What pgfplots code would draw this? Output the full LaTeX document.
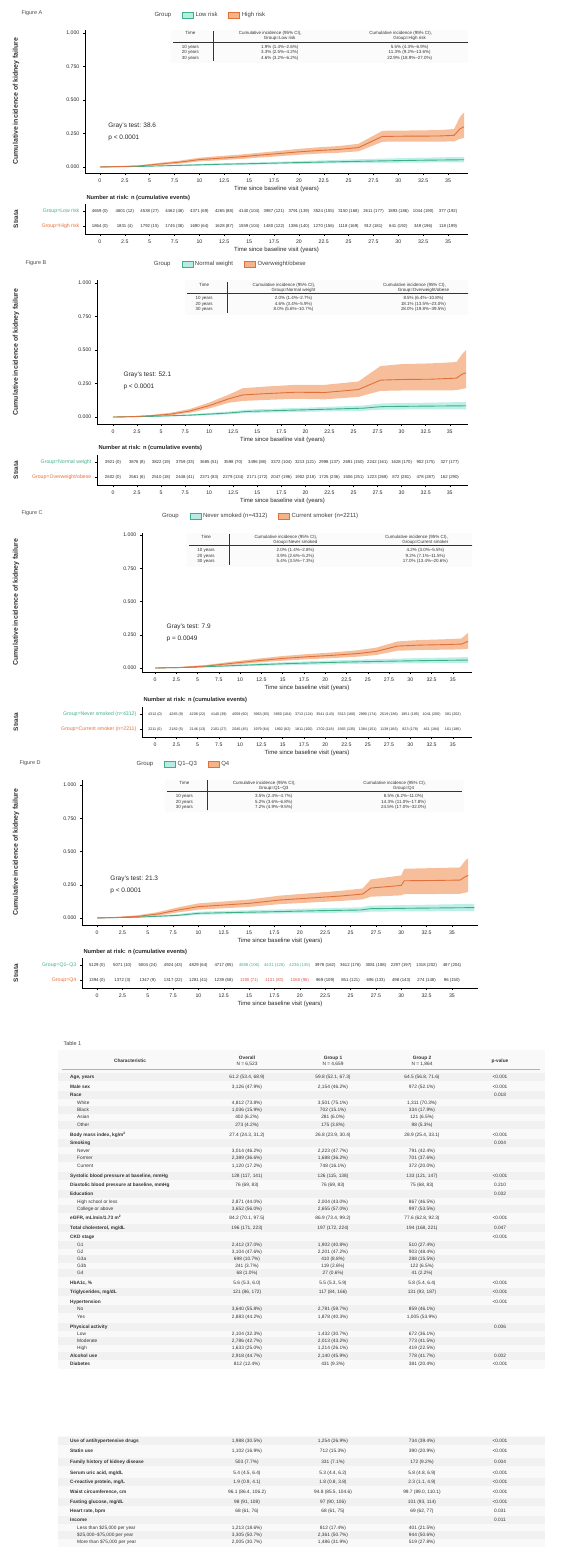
\documentclass[border=0pt]{standalone}
\usepackage{fontspec}
\setmainfont{Liberation Sans}
\usepackage{array}
\usepackage{pgfplots}
\usepackage{pgfplotstable}
\pgfplotsset{compat=1.18}

\definecolor{oline}{HTML}{E2703A}
\definecolor{oband}{HTML}{F5B388}
\definecolor{gline}{HTML}{3FAF8A}
\definecolor{gband}{HTML}{B6ECE4}
\definecolor{rtxt}{HTML}{D9534F}

% ---------------- estimates (x, y) ----------------
\pgfplotstableread[row sep=\\]{x y\\
0 0\\ 2 0.003\\ 4 0.008\\ 6 0.022\\ 8 0.036\\ 10 0.055\\ 12 0.065\\ 14 0.075\\ 16 0.088\\ 18 0.100\\ 20 0.113\\
22 0.123\\ 24 0.131\\ 26 0.145\\ 28.4 0.228\\ 31 0.230\\ 34 0.231\\ 35.6 0.236\\ 36.2 0.285\\ 36.6 0.300\\}\Aor
\pgfplotstableread[row sep=\\]{x y\\
0 0\\ 4 0.004\\ 8 0.012\\ 12 0.020\\ 16 0.026\\ 20 0.033\\ 24 0.039\\ 28 0.045\\ 32 0.050\\ 36.6 0.054\\}\Agr
\pgfplotstableread[row sep=\\]{x y\\
0 0\\ 2 0.003\\ 4 0.010\\ 6 0.022\\ 8 0.045\\ 10 0.085\\ 12 0.135\\ 13.5 0.165\\ 16 0.175\\ 19 0.185\\ 22 0.183\\
25.5 0.205\\ 27.8 0.275\\ 30 0.280\\ 33 0.282\\ 35.7 0.290\\ 36.3 0.320\\ 36.7 0.330\\}\Bor
\pgfplotstableread[row sep=\\]{x y\\
0 0\\ 4 0.005\\ 8 0.014\\ 12 0.030\\ 14 0.042\\ 18 0.050\\ 22 0.058\\ 26 0.066\\ 28 0.078\\ 32 0.081\\ 36.7 0.084\\}\Bgr
\pgfplotstableread[row sep=\\]{x y\\
0 0\\ 3 0.004\\ 6 0.015\\ 9 0.035\\ 12 0.055\\ 15 0.072\\ 18 0.085\\ 21 0.096\\ 24 0.110\\ 26 0.125\\ 28.5 0.165\\
31 0.172\\ 34 0.176\\ 36 0.180\\ 36.8 0.200\\}\Cor
\pgfplotstableread[row sep=\\]{x y\\
0 0\\ 4 0.005\\ 8 0.015\\ 12 0.025\\ 16 0.034\\ 20 0.041\\ 24 0.047\\ 28 0.052\\ 32 0.056\\ 36.8 0.060\\}\Cgr
\pgfplotstableread[row sep=\\]{x y\\
0 0\\ 2 0.004\\ 4 0.012\\ 6 0.030\\ 8 0.060\\ 10 0.085\\ 12 0.095\\ 15 0.110\\ 18 0.135\\ 21 0.150\\ 24 0.165\\
26.2 0.180\\ 27 0.225\\ 30 0.245\\ 30.3 0.280\\ 33 0.282\\ 35.8 0.285\\ 36.3 0.310\\ 36.6 0.320\\}\Dor
\pgfplotstableread[row sep=\\]{x y\\
0 0\\ 4 0.006\\ 8 0.020\\ 10 0.035\\ 14 0.042\\ 18 0.048\\ 22 0.055\\ 26 0.060\\ 27 0.070\\ 32 0.074\\ 37.2 0.078\\}\Dgr

% ---------------- 95% CI bands: upper limit forward, lower limit backward ----------------
\pgfplotstableread[row sep=\\]{x y\\
0 0\\ 2 0.006\\ 4 0.013\\ 6 0.031\\ 8 0.047\\ 10 0.069\\ 12 0.081\\ 14 0.092\\ 16 0.106\\ 18 0.120\\ 20 0.135\\
22 0.147\\ 24 0.156\\ 26 0.173\\ 28.4 0.270\\ 31 0.272\\ 34 0.275\\ 35.6 0.283\\ 36.2 0.375\\ 36.6 0.405\\
36.6 0.218\\ 36.2 0.210\\ 35.6 0.191\\ 34 0.189\\ 31 0.190\\ 28.4 0.188\\ 26 0.117\\ 24 0.106\\ 22 0.100\\
20 0.091\\ 18 0.080\\ 16 0.070\\ 14 0.059\\ 12 0.050\\ 10 0.042\\ 8 0.025\\ 6 0.014\\ 4 0.004\\ 2 0.001\\ 0 0\\}\Aob
\pgfplotstableread[row sep=\\]{x y\\
0 0\\ 4 0.007\\ 8 0.018\\ 12 0.027\\ 16 0.035\\ 20 0.044\\ 24 0.053\\ 28 0.062\\ 32 0.069\\ 36.6 0.075\\
36.6 0.035\\ 32 0.033\\ 28 0.030\\ 24 0.027\\ 20 0.023\\ 16 0.018\\ 12 0.013\\ 8 0.007\\ 4 0.002\\ 0 0\\}\Agb
\pgfplotstableread[row sep=\\]{x y\\
0 0\\ 2 0.006\\ 4 0.016\\ 6 0.032\\ 8 0.060\\ 10 0.108\\ 12 0.166\\ 13.5 0.215\\ 16 0.228\\ 19 0.240\\ 22 0.240\\
25.5 0.265\\ 27.8 0.380\\ 30 0.395\\ 33 0.400\\ 35.7 0.410\\ 36.3 0.470\\ 36.7 0.500\\
36.7 0.215\\ 36.3 0.210\\ 35.7 0.200\\ 33 0.198\\ 30 0.198\\ 27.8 0.195\\ 25.5 0.150\\ 22 0.132\\ 19 0.136\\
16 0.128\\ 13.5 0.120\\ 12 0.106\\ 10 0.064\\ 8 0.032\\ 6 0.013\\ 4 0.005\\ 2 0.001\\ 0 0\\}\Bob
\pgfplotstableread[row sep=\\]{x y\\
0 0\\ 4 0.009\\ 8 0.021\\ 12 0.041\\ 14 0.055\\ 18 0.065\\ 22 0.075\\ 26 0.086\\ 28 0.102\\ 32 0.106\\ 36.7 0.112\\
36.7 0.058\\ 32 0.057\\ 28 0.055\\ 26 0.047\\ 22 0.042\\ 18 0.036\\ 14 0.030\\ 12 0.020\\ 8 0.008\\ 4 0.002\\ 0 0\\}\Bgb
\pgfplotstableread[row sep=\\]{x y\\
0 0\\ 3 0.008\\ 6 0.023\\ 9 0.047\\ 12 0.070\\ 15 0.090\\ 18 0.105\\ 21 0.118\\ 24 0.135\\ 26 0.153\\ 28.5 0.200\\
31 0.210\\ 34 0.216\\ 36 0.222\\ 36.8 0.265\\
36.8 0.145\\ 36 0.140\\ 34 0.138\\ 31 0.135\\ 28.5 0.130\\ 26 0.098\\ 24 0.086\\ 21 0.075\\ 18 0.066\\
15 0.055\\ 12 0.041\\ 9 0.024\\ 6 0.008\\ 3 0.001\\ 0 0\\}\Cob
\pgfplotstableread[row sep=\\]{x y\\
0 0\\ 4 0.009\\ 8 0.022\\ 12 0.035\\ 16 0.046\\ 20 0.055\\ 24 0.063\\ 28 0.070\\ 32 0.076\\ 36.8 0.082\\
36.8 0.038\\ 32 0.036\\ 28 0.034\\ 24 0.031\\ 20 0.027\\ 16 0.022\\ 12 0.016\\ 8 0.009\\ 4 0.002\\ 0 0\\}\Cgb
\pgfplotstableread[row sep=\\]{x y\\
0 0\\ 2 0.008\\ 4 0.020\\ 6 0.044\\ 8 0.080\\ 10 0.110\\ 12 0.121\\ 15 0.139\\ 18 0.168\\ 21 0.186\\ 24 0.204\\
26.2 0.222\\ 27 0.290\\ 30 0.320\\ 30.3 0.370\\ 33 0.375\\ 35.8 0.380\\ 36.3 0.430\\ 36.6 0.450\\
36.6 0.195\\ 36.3 0.190\\ 35.8 0.182\\ 33 0.180\\ 30.3 0.180\\ 30 0.170\\ 27 0.160\\ 26.2 0.140\\ 24 0.128\\
21 0.116\\ 18 0.104\\ 15 0.083\\ 12 0.071\\ 10 0.062\\ 8 0.042\\ 6 0.018\\ 4 0.005\\ 2 0.001\\ 0 0\\}\Dob
\pgfplotstableread[row sep=\\]{x y\\
0 0\\ 4 0.011\\ 8 0.029\\ 10 0.047\\ 14 0.056\\ 18 0.064\\ 22 0.073\\ 26 0.080\\ 27 0.093\\ 32 0.099\\ 37.2 0.106\\
37.2 0.052\\ 32 0.050\\ 27 0.048\\ 26 0.041\\ 22 0.038\\ 18 0.033\\ 14 0.029\\ 10 0.024\\ 8 0.012\\ 4 0.002\\ 0 0\\}\Dgb

\pgfplotsset{
  cimain/.style={
    scale only axis, axis x line*=bottom, axis y line*=left,
    axis line style={black, line width=0.6pt},
    every tick/.style={black, line width=0.45pt},
    major tick length=2.2bp, tick align=outside,
    xtick={0,2.5,...,35}, ytick={0,0.25,0.5,0.75,1},
    tick label style={font=\fontsize{5.2}{6}\selectfont, text=black!85},
    /pgf/number format/assume math mode=true,
    yticklabel style={/pgf/number format/.cd, fixed, fixed zerofill, precision=3},
    xticklabel style={/pgf/number format/.cd, fixed, precision=1},
    xlabel={Time since baseline visit (years)},
    xlabel style={font=\fontsize{6}{7}\selectfont, text=black!85, yshift=3bp},
    legend columns=-1,
    legend style={draw=none, fill=none, font=\fontsize{6}{7}\selectfont, text=black!75,
      /tikz/every even column/.append style={column sep=9bp}},
    legend image code/.code={\draw[##1] (0bp,-3bp) rectangle (11bp,3bp);},
  },
  risk/.style={
    scale only axis, axis x line*=bottom, axis y line*=left,
    axis line style={black, line width=0.6pt},
    every tick/.style={black, line width=0.45pt},
    major tick length=2.2bp, tick align=outside,
    xtick={0,2.5,...,35}, ymin=0.5, ymax=2.5, y dir=reverse, ytick={1,2},
    tick label style={font=\fontsize{5.2}{6}\selectfont, text=black!85},
    /pgf/number format/assume math mode=true,
    xticklabel style={/pgf/number format/.cd, fixed, precision=1},
    xlabel={Time since baseline visit (years)},
    xlabel style={font=\fontsize{6}{7}\selectfont, text=black!85, yshift=3bp},
  },
  riskpts/.style={only marks, mark=*, mark size=0pt, mark options={draw=none, fill=none},
    nodes near coords, point meta=explicit symbolic,
    every node near coord/.append style={font=\fontsize{4.3}{5}\selectfont, text=black!85, anchor=center, inner sep=0pt}},
}

\newcommand{\curves}[4]{%
  \addplot[fill=gband, draw=none, fill opacity=0.9, forget plot] table[x=x, y=y] {#4};
  \addplot[fill=oband, draw=none, fill opacity=0.85, forget plot] table[x=x, y=y] {#3};
  \addplot[gline, line width=0.9pt, forget plot] table[x=x, y=y] {#2};
  \addplot[oline, line width=0.9pt, forget plot] table[x=x, y=y] {#1};
}
\newcommand{\leg}[2]{%
  \addlegendimage{empty legend}\addlegendentry{Group}
  \addlegendimage{fill=gband, draw=gline}\addlegendentry{#1}
  \addlegendimage{fill=oband, draw=oline}\addlegendentry{#2}
}
\newcommand{\insettab}[8]{%
  \renewcommand{\arraystretch}{1.1}%
  \begin{tabular}{@{}>{\centering\arraybackslash}p{34bp}|>{\centering\arraybackslash}p{120bp}>{\centering\arraybackslash}p{116bp}@{}}
  Time & Cumulative incidence (95\% CI),\newline Group=#1 & Cumulative incidence (95\% CI),\newline Group=#2\\ \hline
  \rule{0pt}{6bp}10 years & #3 & #4\\
  20 years & #5 & #6\\
  30 years & #7 & #8\\
  \end{tabular}}
\newcommand{\tabnode}{\node[anchor=north west, fill=gray!3, draw=none, inner sep=2bp, font=\fontsize{4.5}{5.2}\selectfont, text=black!80]}
\newcommand{\statnode}{\node[anchor=west, align=left, font=\fontsize{6.5}{12}\selectfont, text=black!85]}
\newcommand{\trow}[6]{%
  \node[anchor=west] at (70bp,-#1bp) {#2};
  \node at (247bp,-#1bp) {#3};
  \node at (333bp,-#1bp) {#4};
  \node at (422bp,-#1bp) {#5};
  \node at (500bp,-#1bp) {#6};}
\newcommand{\ind}{\hspace*{7bp}}

\begin{document}
\begin{tikzpicture}
\useasboundingbox (0,0) rectangle (563bp,-1551bp);
\tikzset{lab/.style={rotate=90, font=\bfseries\fontsize{7}{8}\selectfont, text=black!80},
  fig/.style={anchor=west, font=\fontsize{5.5}{6.5}\selectfont, text=black!70},
  rt/.style={anchor=west, font=\bfseries\fontsize{5.8}{6.5}\selectfont, text=black!85}}

% ================= Panel A =================
\node[fig] at (18bp,-13bp) {Figure A};
\node[lab] at (16bp,-101bp) {Cumulative incidence of kidney failure};
\begin{axis}[cimain, at={(85bp,-173bp)}, anchor=south west, width=383bp, height=143bp,
  xmin=-1.5, xmax=37, ymin=-0.045, ymax=1.022,
  legend style={at={(0.326,1.105)}, anchor=center}]
\curves{\Aor}{\Agr}{\Aob}{\Agb}
\leg{Low risk}{High risk}
\tabnode at (rel axis cs:0.225,1.01) {\insettab{Low risk}{High risk}{1.9\% (1.4\%--2.6\%)}{5.5\% (4.3\%--6.9\%)}{3.3\% (2.5\%--4.2\%)}{11.3\% (9.2\%--13.6\%)}{4.6\% (3.2\%--6.2\%)}{22.9\% (18.9\%--27.0\%)}};
\statnode at (rel axis cs:0.052,0.29) {Gray's test: 38.6\\p < 0.0001};
\end{axis}
\node[rt] at (83bp,-198bp) {Number at risk: n (cumulative events)};
\node[lab, font=\bfseries\fontsize{6.5}{7}\selectfont] at (16bp,-219bp) {Strata};
\begin{axis}[risk, at={(85bp,-234bp)}, anchor=south west, width=383bp, height=30bp,
  xmin=-1.5, xmax=37,
  yticklabels={{\textcolor{gline}{Group=Low risk}},{\textcolor{oline}{Group=High risk}}}]
\addplot[riskpts] coordinates {(0,1) [4659 (0)] (2.5,1) [4601 (12)] (5,1) [4538 (27)] (7.5,1) [4462 (48)] (10,1) [4371 (69)] (12.5,1) [4265 (88)] (15,1) [4140 (104)] (17.5,1) [3987 (121)] (20,1) [3791 (139)] (22.5,1) [3524 (155)] (25,1) [3150 (168)] (27.5,1) [2611 (177)] (30,1) [1893 (186)] (32.5,1) [1044 (190)] (35,1) [377 (192)]};
\addplot[riskpts] coordinates {(0,2) [1864 (0)] (2.5,2) [1831 (4)] (5,2) [1792 (15)] (7.5,2) [1745 (38)] (10,2) [1690 (64)] (12.5,2) [1628 (87)] (15,2) [1559 (104)] (17.5,2) [1480 (122)] (20,2) [1386 (140)] (22.5,2) [1270 (156)] (25,2) [1118 (169)] (27.5,2) [912 (181)] (30,2) [641 (192)] (32.5,2) [349 (196)] (35,2) [118 (199)]};
\end{axis}

% ================= Panel B =================
\node[fig] at (22bp,-263bp) {Figure B};
\node[lab] at (16bp,-352bp) {Cumulative incidence of kidney failure};
\begin{axis}[cimain, at={(97bp,-424bp)}, anchor=south west, width=371bp, height=144bp,
  xmin=-1.66, xmax=36.9, ymin=-0.052, ymax=1.022,
  legend style={at={(0.358,1.111)}, anchor=center}]
\curves{\Bor}{\Bgr}{\Bob}{\Bgb}
\leg{Normal weight}{Overweight/obese}
\tabnode at (rel axis cs:0.237,1.0) {\insettab{Normal weight}{Overweight/obese}{2.0\% (1.4\%--2.7\%)}{8.5\% (6.4\%--10.8\%)}{4.6\% (3.4\%--5.9\%)}{18.1\% (13.5\%--23.0\%)}{8.0\% (5.6\%--10.7\%)}{28.0\% (19.8\%--39.5\%)}};
\statnode at (rel axis cs:0.062,0.30) {Gray's test: 52.1\\p < 0.0001};
\end{axis}
\node[rt] at (95bp,-448bp) {Number at risk: n (cumulative events)};
\node[lab, font=\bfseries\fontsize{6.5}{7}\selectfont] at (16bp,-470bp) {Strata};
\begin{axis}[risk, at={(97bp,-485bp)}, anchor=south west, width=371bp, height=30bp,
  xmin=-1.66, xmax=36.9,
  yticklabels={{\textcolor{gline}{Group=Normal weight}},{\textcolor{oline}{Group=Overweight/obese}}}]
\addplot[riskpts] coordinates {(0,1) [3921 (0)] (2.5,1) [3876 (8)] (5,1) [3822 (19)] (7.5,1) [3759 (33)] (10,1) [3685 (51)] (12.5,1) [3598 (70)] (15,1) [3496 (88)] (17.5,1) [3372 (104)] (20,1) [3213 (121)] (22.5,1) [2998 (137)] (25,1) [2691 (150)] (27.5,1) [2242 (161)] (30,1) [1628 (170)] (32.5,1) [902 (175)] (35,1) [327 (177)]};
\addplot[riskpts] coordinates {(0,2) [2602 (0)] (2.5,2) [2561 (6)] (5,2) [2510 (18)] (7.5,2) [2448 (41)] (10,2) [2371 (83)] (12.5,2) [2279 (134)] (15,2) [2171 (172)] (17.5,2) [2047 (196)] (20,2) [1902 (218)] (22.5,2) [1725 (236)] (25,2) [1506 (251)] (27.5,2) [1223 (268)] (30,2) [872 (281)] (32.5,2) [478 (287)] (35,2) [162 (290)]};
\end{axis}

% ================= Panel C =================
\node[fig] at (18bp,-513bp) {Figure C};
\node[lab] at (16bp,-602bp) {Cumulative incidence of kidney failure};
\begin{axis}[cimain, at={(142bp,-672bp)}, anchor=south west, width=330bp, height=139bp,
  xmin=-1.53, xmax=37.25, ymin=-0.03, ymax=1.015,
  legend style={at={(0.358,1.122)}, anchor=center}]
\curves{\Cor}{\Cgr}{\Cob}{\Cgb}
\leg{Never smoked (n=4312)}{Current smoker (n=2211)}
\tabnode at (rel axis cs:0.136,1.007) {\insettab{Never smoked}{Current smoker}{2.0\% (1.4\%--2.8\%)}{4.2\% (3.0\%--5.5\%)}{3.9\% (2.6\%--5.2\%)}{9.2\% (7.1\%--11.5\%)}{5.4\% (3.5\%--7.3\%)}{17.0\% (13.4\%--20.6\%)}};
\statnode at (rel axis cs:0.064,0.28) {Gray's test: 7.9\\p = 0.0049};
\end{axis}
\node[rt] at (140bp,-700bp) {Number at risk: n (cumulative events)};
\node[lab, font=\bfseries\fontsize{6.5}{7}\selectfont] at (16bp,-722bp) {Strata};
\begin{axis}[risk, at={(142bp,-737bp)}, anchor=south west, width=330bp, height=30bp,
  xmin=-1.53, xmax=37.25,
  yticklabels={{\textcolor{gline}{Group=Never smoked (n=4312)}},{\textcolor{oline}{Group=Current smoker (n=2211)}}}]
\addplot[riskpts, every node near coord/.append style={font=\fontsize{3.7}{4.2}\selectfont}] coordinates {(0,1) [4312 (0)] (2.5,1) [4265 (9)] (5,1) [4208 (22)] (7.5,1) [4140 (39)] (10,1) [4059 (60)] (12.5,1) [3963 (83)] (15,1) [3850 (104)] (17.5,1) [3713 (124)] (20,1) [3541 (143)] (22.5,1) [3313 (160)] (25,1) [2990 (174)] (27.5,1) [2519 (186)] (30,1) [1851 (195)] (32.5,1) [1041 (200)] (35,1) [381 (202)]};
\addplot[riskpts, every node near coord/.append style={font=\fontsize{3.7}{4.2}\selectfont}] coordinates {(0,2) [2211 (0)] (2.5,2) [2182 (5)] (5,2) [2146 (13)] (7.5,2) [2101 (27)] (10,2) [2045 (45)] (12.5,2) [1979 (64)] (15,2) [1902 (82)] (17.5,2) [1811 (100)] (20,2) [1702 (118)] (22.5,2) [1565 (135)] (25,2) [1384 (151)] (27.5,2) [1139 (166)] (30,2) [823 (178)] (32.5,2) [461 (184)] (35,2) [161 (186)]};
\end{axis}

% ================= Panel D =================
\node[fig] at (16bp,-763bp) {Figure D};
\node[lab] at (16bp,-852bp) {Cumulative incidence of kidney failure};
\begin{axis}[cimain, at={(82bp,-925bp)}, anchor=south west, width=396bp, height=145bp,
  xmin=-1.48, xmax=37.57, ymin=-0.053, ymax=1.038,
  legend style={at={(0.255,1.110)}, anchor=center}]
\curves{\Dor}{\Dgr}{\Dob}{\Dgb}
\leg{Q1--Q3}{Q4}
\tabnode at (rel axis cs:0.21,1.015) {\insettab{Q1--Q3}{Q4}{3.5\% (2.4\%--4.7\%)}{8.5\% (6.2\%--11.0\%)}{5.2\% (3.6\%--6.8\%)}{14.3\% (11.0\%--17.8\%)}{7.2\% (4.9\%--9.5\%)}{24.5\% (17.0\%--32.0\%)}};
\statnode at (rel axis cs:0.063,0.276) {Gray's test: 21.3\\p < 0.0001};
\end{axis}
\node[rt] at (80bp,-952bp) {Number at risk: n (cumulative events)};
\node[lab, font=\bfseries\fontsize{6.5}{7}\selectfont] at (16bp,-973bp) {Strata};
\begin{axis}[risk, at={(82bp,-988bp)}, anchor=south west, width=396bp, height=30bp,
  xmin=-1.48, xmax=37.57,
  yticklabels={{\textcolor{gline}{Group=Q1--Q3}},{\textcolor{oline}{Group=Q4}}}]
\addplot[riskpts] coordinates {(0,1) [5129 (0)] (2.5,1) [5071 (10)] (5,1) [5004 (24)] (7.5,1) [4924 (43)] (10,1) [4829 (64)] (12.5,1) [4717 (85)] (15,1) [\textcolor{gline}{4588 (106)}] (17.5,1) [\textcolor{gline}{4431 (126)}] (20,1) [\textcolor{gline}{4236 (145)}] (22.5,1) [3978 (162)] (25,1) [3612 (176)] (27.5,1) [3081 (188)] (30,1) [2297 (197)] (32.5,1) [1318 (202)] (35,1) [487 (204)]};
\addplot[riskpts] coordinates {(0,2) [1394 (0)] (2.5,2) [1372 (3)] (5,2) [1347 (9)] (7.5,2) [1317 (22)] (10,2) [1281 (41)] (12.5,2) [1239 (58)] (15,2) [\textcolor{rtxt}{1190 (71)}] (17.5,2) [\textcolor{rtxt}{1131 (83)}] (20,2) [\textcolor{rtxt}{1060 (96)}] (22.5,2) [969 (109)] (25,2) [851 (121)] (27.5,2) [696 (133)] (30,2) [498 (143)] (32.5,2) [274 (148)] (35,2) [96 (150)]};
\end{axis}

% ================= Table 1 =================
\fill[gray!5] (58bp,-1050bp) rectangle (545bp,-1369bp);
\fill[gray!5] (58bp,-1436bp) rectangle (545bp,-1547bp);
\foreach \yy in {1077,1095,1110,1125,1143,1158,1176,1194,1209,1228,1245,1259,1273,1292,1309,1327,1341,1356,1441,1462,1482,1502,1520,1535}
  {\fill[gray!11] (58bp,{-(\yy-3.9)*1bp}) rectangle (545bp,{-(\yy+3.9)*1bp});}
\node[anchor=west, font=\fontsize{5.5}{6.5}\selectfont, text=black!75] at (60bp,-1044bp) {Table 1};
\begin{scope}[every node/.style={font=\fontsize{4.8}{5.4}\selectfont, text=black!80, inner sep=0pt}]
\node at (130bp,-1061bp) {\textbf{Characteristic}};
\node[align=center] at (247bp,-1061bp) {\textbf{Overall}\\N = 6,523};
\node[align=center] at (333bp,-1061bp) {\textbf{Group 1}\\N = 4,659};
\node[align=center] at (422bp,-1061bp) {\textbf{Group 2}\\N = 1,864};
\node at (500bp,-1061bp) {\textbf{p-value}};
\draw[gray!60, line width=0.3pt] (62bp,-1069bp) -- (540bp,-1069bp);
\trow{1077}{\textbf{Age, years}}{61.2 (53.4, 68.9)}{59.8 (52.1, 67.3)}{64.5 (56.8, 71.6)}{<0.001}
\trow{1087}{\textbf{Male sex}}{3,126 (47.9\%)}{2,154 (46.2\%)}{972 (52.1\%)}{<0.001}
\trow{1095}{\textbf{Race}}{}{}{}{0.018}
\trow{1103}{\ind White}{4,812 (73.8\%)}{3,501 (75.1\%)}{1,311 (70.3\%)}{}
\trow{1110}{\ind Black}{1,036 (15.9\%)}{702 (15.1\%)}{334 (17.9\%)}{}
\trow{1117}{\ind Asian}{402 (6.2\%)}{281 (6.0\%)}{121 (6.5\%)}{}
\trow{1125}{\ind Other}{273 (4.2\%)}{175 (3.8\%)}{98 (5.3\%)}{}
\trow{1135}{\textbf{Body mass index, kg/m\textsuperscript{2}}}{27.4 (24.3, 31.2)}{26.8 (23.9, 30.4)}{28.9 (25.4, 33.1)}{<0.001}
\trow{1143}{\textbf{Smoking}}{}{}{}{0.004}
\trow{1151}{\ind Never}{3,014 (46.2\%)}{2,223 (47.7\%)}{791 (42.4\%)}{}
\trow{1158}{\ind Former}{2,389 (36.6\%)}{1,688 (36.2\%)}{701 (37.6\%)}{}
\trow{1166}{\ind Current}{1,120 (17.2\%)}{748 (16.1\%)}{372 (20.0\%)}{}
\trow{1176}{\textbf{Systolic blood pressure at baseline, mmHg}}{128 (117, 141)}{126 (115, 138)}{133 (121, 147)}{<0.001}
\trow{1185}{\textbf{Diastolic blood pressure at baseline, mmHg}}{76 (69, 83)}{76 (69, 83)}{75 (68, 83)}{0.210}
\trow{1194}{\textbf{Education}}{}{}{}{0.032}
\trow{1202}{\ind High school or less}{2,871 (44.0\%)}{2,004 (43.0\%)}{867 (46.5\%)}{}
\trow{1209}{\ind College or above}{3,652 (56.0\%)}{2,655 (57.0\%)}{997 (53.5\%)}{}
\trow{1218}{\textbf{eGFR, mL/min/1.73 m\textsuperscript{2}}}{84.2 (70.1, 97.5)}{86.9 (73.4, 99.2)}{77.6 (62.8, 92.3)}{<0.001}
\trow{1228}{\textbf{Total cholesterol, mg/dL}}{196 (171, 223)}{197 (172, 224)}{194 (168, 221)}{0.047}
\trow{1237}{\textbf{CKD stage}}{}{}{}{<0.001}
\trow{1245}{\ind G1}{2,412 (37.0\%)}{1,902 (40.8\%)}{510 (27.4\%)}{}
\trow{1252}{\ind G2}{3,104 (47.6\%)}{2,201 (47.2\%)}{903 (48.4\%)}{}
\trow{1259}{\ind G3a}{698 (10.7\%)}{410 (8.8\%)}{288 (15.5\%)}{}
\trow{1266}{\ind G3b}{241 (3.7\%)}{119 (2.6\%)}{122 (6.5\%)}{}
\trow{1273}{\ind G4}{68 (1.0\%)}{27 (0.6\%)}{41 (2.2\%)}{}
\trow{1283}{\textbf{HbA1c, \%}}{5.6 (5.3, 6.0)}{5.5 (5.3, 5.9)}{5.8 (5.4, 6.4)}{<0.001}
\trow{1292}{\textbf{Triglycerides, mg/dL}}{121 (86, 172)}{117 (84, 166)}{131 (93, 187)}{<0.001}
\trow{1302}{\textbf{Hypertension}}{}{}{}{<0.001}
\trow{1309}{\ind No}{3,640 (55.8\%)}{2,781 (59.7\%)}{859 (46.1\%)}{}
\trow{1317}{\ind Yes}{2,883 (44.2\%)}{1,878 (40.3\%)}{1,005 (53.9\%)}{}
\trow{1327}{\textbf{Physical activity}}{}{}{}{0.006}
\trow{1334}{\ind Low}{2,104 (32.3\%)}{1,432 (30.7\%)}{672 (36.1\%)}{}
\trow{1341}{\ind Moderate}{2,786 (42.7\%)}{2,013 (43.2\%)}{773 (41.5\%)}{}
\trow{1348}{\ind High}{1,633 (25.0\%)}{1,214 (26.1\%)}{419 (22.5\%)}{}
\trow{1356}{\textbf{Alcohol use}}{2,918 (44.7\%)}{2,140 (45.9\%)}{778 (41.7\%)}{0.002}
\trow{1364}{\textbf{Diabetes}}{812 (12.4\%)}{431 (9.3\%)}{381 (20.4\%)}{<0.001}
\trow{1441}{\textbf{Use of antihypertensive drugs}}{1,988 (30.5\%)}{1,254 (26.9\%)}{734 (39.4\%)}{<0.001}
\trow{1451}{\textbf{Statin use}}{1,102 (16.9\%)}{712 (15.3\%)}{390 (20.9\%)}{<0.001}
\trow{1462}{\textbf{Family history of kidney disease}}{503 (7.7\%)}{331 (7.1\%)}{172 (9.2\%)}{0.004}
\trow{1473}{\textbf{Serum uric acid, mg/dL}}{5.4 (4.5, 6.4)}{5.3 (4.4, 6.2)}{5.8 (4.8, 6.9)}{<0.001}
\trow{1482}{\textbf{C-reactive protein, mg/L}}{1.9 (0.9, 4.1)}{1.8 (0.8, 3.8)}{2.3 (1.1, 4.9)}{<0.001}
\trow{1492}{\textbf{Waist circumference, cm}}{96.1 (86.4, 106.2)}{94.8 (85.5, 104.6)}{99.7 (89.0, 110.1)}{<0.001}
\trow{1502}{\textbf{Fasting glucose, mg/dL}}{98 (91, 108)}{97 (90, 106)}{101 (93, 114)}{<0.001}
\trow{1511}{\textbf{Heart rate, bpm}}{68 (61, 76)}{68 (61, 75)}{69 (62, 77)}{0.031}
\trow{1520}{\textbf{Income}}{}{}{}{0.011}
\trow{1528}{\ind Less than \$25,000 per year}{1,213 (18.6\%)}{812 (17.4\%)}{401 (21.5\%)}{}
\trow{1535}{\ind \$25,000--\$75,000 per year}{3,305 (50.7\%)}{2,361 (50.7\%)}{944 (50.6\%)}{}
\trow{1542}{\ind More than \$75,000 per year}{2,005 (30.7\%)}{1,486 (31.9\%)}{519 (27.8\%)}{}
\end{scope}
\end{tikzpicture}
\end{document}
